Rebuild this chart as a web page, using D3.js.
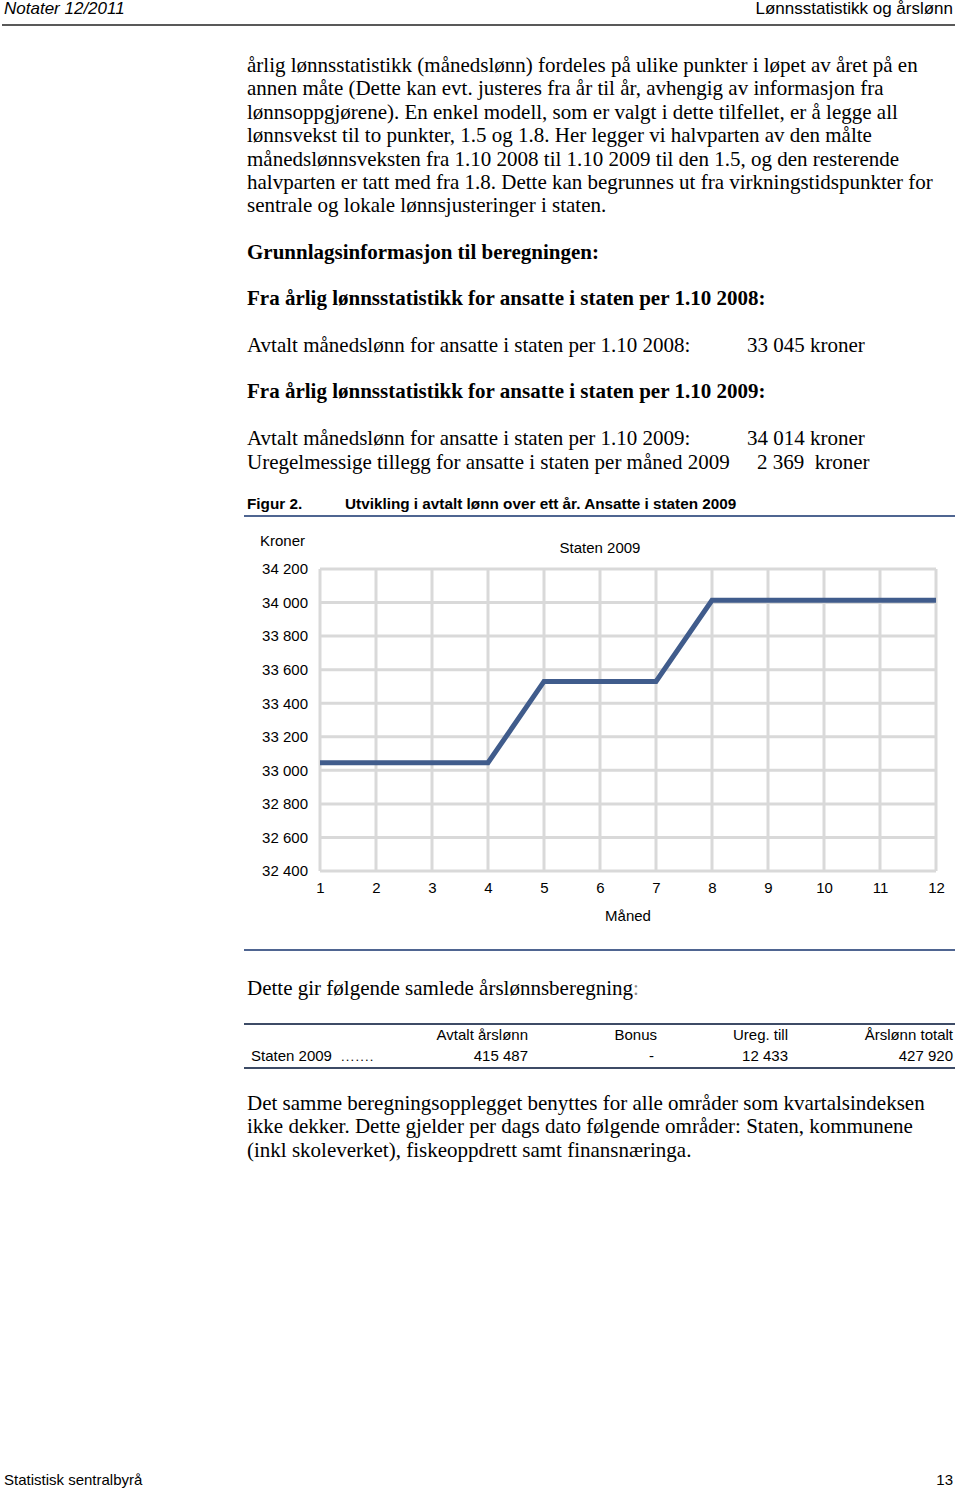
<!DOCTYPE html>
<html>
<head>
<meta charset="utf-8">
<script src="https://cdn.jsdelivr.net/npm/d3@7"></script>
<style>
  body { margin: 0; background: #fff; }
  svg { display: block; }
  .serif { font-family: "Liberation Serif", "Times New Roman", serif; fill: #000; }
  .sans { font-family: "Liberation Sans", Arial, sans-serif; fill: #000; }
</style>
</head>
<body>
<div id="page"></div>
<script>
// chart data
var months = [1, 2, 3, 4, 5, 6, 7, 8, 9, 10, 11, 12];
var salary = [33045, 33045, 33045, 33045, 33530, 33530, 33530, 34014, 34014, 34014, 34014, 34014];
var yTicks = [32400, 32600, 32800, 33000, 33200, 33400, 33600, 33800, 34000, 34200];

// table data
var tableHeads = ["Avtalt årslønn", "Bonus", "Ureg. till", "Årslønn totalt"];
var tableRow = ["415 487", "-", "12 433", "427 920"];

var intro = [
  "årlig lønnsstatistikk (månedslønn) fordeles på ulike punkter i løpet av året på en",
  "annen måte (Dette kan evt. justeres fra år til år, avhengig av informasjon fra",
  "lønnsoppgjørene). En enkel modell, som er valgt i dette tilfellet, er å legge all",
  "lønnsvekst til to punkter, 1.5 og 1.8. Her legger vi halvparten av den målte",
  "månedslønnsveksten fra 1.10 2008 til 1.10 2009 til den 1.5, og den resterende",
  "halvparten er tatt med fra 1.8. Dette kan begrunnes ut fra virkningstidspunkter for",
  "sentrale og lokale lønnsjusteringer i staten."
];
var outro = [
  "Det samme beregningsopplegget benyttes for alle områder som kvartalsindeksen",
  "ikke dekker. Dette gjelder per dags dato følgende områder: Staten, kommunene",
  "(inkl skoleverket), fiskeoppdrett samt finansnæringa."
];

var width = 960, height = 1489;
var bodySize = "21px";
var svg = d3.select("#page").append("svg")
  .attr("width", width)
  .attr("height", height);

// page header / footer
svg.append("text").attr("class", "sans").attr("x", 4).attr("y", 14)
  .style("font-size", "17px").style("font-style", "italic").text("Notater 12/2011");
svg.append("text").attr("class", "sans").attr("x", 953).attr("y", 14)
  .attr("text-anchor", "end").style("font-size", "17px").text("Lønnsstatistikk og årslønn");
svg.append("line").attr("x1", 2).attr("x2", 955).attr("y1", 25).attr("y2", 25)
  .attr("stroke", "#222").attr("stroke-width", 1.5);

svg.append("text").attr("class", "sans").attr("x", 4).attr("y", 1485)
  .style("font-size", "15px").text("Statistisk sentralbyrå");
svg.append("text").attr("class", "sans").attr("x", 953).attr("y", 1485)
  .attr("text-anchor", "end").style("font-size", "15px").text("13");

// body text
function para(lines, y0) {
  svg.append("g").selectAll("text").data(lines).join("text")
    .attr("class", "serif")
    .attr("x", 247)
    .attr("y", function(d, i) { return y0 + i * 23.4; })
    .style("font-size", bodySize)
    .text(function(d) { return d; });
}
para(intro, 72);

function line(txt, x, y, bold) {
  return svg.append("text").attr("class", "serif").attr("x", x).attr("y", y)
    .style("font-size", bodySize).style("font-weight", bold ? "bold" : null).text(txt);
}
line("Grunnlagsinformasjon til beregningen:", 247, 259, true);
line("Fra årlig lønnsstatistikk for ansatte i staten per 1.10 2008:", 247, 305, true);
line("Avtalt månedslønn for ansatte i staten per 1.10 2008:", 247, 352);
line("33 045 kroner", 747, 352);
line("Fra årlig lønnsstatistikk for ansatte i staten per 1.10 2009:", 247, 398, true);
line("Avtalt månedslønn for ansatte i staten per 1.10 2009:", 247, 445);
line("34 014 kroner", 747, 445);
line("Uregelmessige tillegg for ansatte i staten per måned 2009", 247, 469);
line("2 369  kroner", 757, 469).style("white-space", "pre");

// figure title
svg.append("text").attr("class", "sans").attr("x", 247).attr("y", 509)
  .style("font-size", "15.3px").style("font-weight", "bold").text("Figur 2.");
svg.append("text").attr("class", "sans").attr("x", 345).attr("y", 509)
  .style("font-size", "15.3px").style("font-weight", "bold")
  .text("Utvikling i avtalt lønn over ett år. Ansatte i staten 2009");
svg.append("line").attr("x1", 244).attr("x2", 955).attr("y1", 516).attr("y2", 516)
  .attr("stroke", "#4f6591").attr("stroke-width", 2);

// chart
var x = d3.scaleLinear().domain([1, 12]).range([320, 936]);
var y = d3.scaleLinear().domain([32400, 34200]).range([871, 569]);
var fmt = function(v) { return d3.format(",")(v).replace(",", " "); };

var grid = svg.append("g");
grid.selectAll("line.h").data(yTicks).join("line")
  .attr("class", "h")
  .attr("x1", x(1)).attr("x2", x(12))
  .attr("y1", function(d) { return y(d); }).attr("y2", function(d) { return y(d); })
  .attr("stroke", "#d9d9d9").attr("stroke-width", 3);
grid.selectAll("line.v").data(months).join("line")
  .attr("class", "v")
  .attr("x1", function(d) { return x(d); }).attr("x2", function(d) { return x(d); })
  .attr("y1", y(34200)).attr("y2", y(32400))
  .attr("stroke", "#d9d9d9").attr("stroke-width", 3);

var yAxis = svg.append("g")
  .attr("transform", "translate(" + (x(1) - 12) + ",0)")
  .call(d3.axisLeft(y).tickValues(yTicks).tickFormat(fmt).tickSize(0).tickPadding(0));
yAxis.select(".domain").remove();
yAxis.selectAll("text")
  .style("font-size", "15px").style("font-family", "'Liberation Sans', Arial, sans-serif")
  .attr("fill", "#000");

var xAxis = svg.append("g")
  .attr("transform", "translate(0," + (y(32400) + 11) + ")")
  .call(d3.axisBottom(x).tickValues(months).tickFormat(d3.format("d")).tickSize(0).tickPadding(0));
xAxis.select(".domain").remove();
xAxis.selectAll("text")
  .style("font-size", "15px").style("font-family", "'Liberation Sans', Arial, sans-serif")
  .attr("fill", "#000");

svg.append("path")
  .datum(months.map(function(m, i) { return [m, salary[i]]; }))
  .attr("fill", "none")
  .attr("stroke", "#405c8c")
  .attr("stroke-width", 5)
  .attr("stroke-linejoin", "miter")
  .attr("d", d3.line().x(function(d) { return x(d[0]); }).y(function(d) { return y(d[1]); }));

svg.append("text").attr("class", "sans").attr("x", 260).attr("y", 546)
  .style("font-size", "15px").text("Kroner");
svg.append("text").attr("class", "sans").attr("x", 600).attr("y", 553)
  .attr("text-anchor", "middle").style("font-size", "15px").text("Staten 2009");
svg.append("text").attr("class", "sans").attr("x", 628).attr("y", 921)
  .attr("text-anchor", "middle").style("font-size", "15px").text("Måned");

svg.append("line").attr("x1", 244).attr("x2", 955).attr("y1", 950).attr("y2", 950)
  .attr("stroke", "#4f6591").attr("stroke-width", 2);

// calculation table
var t = line("Dette gir følgende samlede årslønnsberegning", 247, 995);
t.append("tspan").style("fill", "#888").text(":");

var colRight = [528, 657, 788, 953];
svg.append("line").attr("x1", 244).attr("x2", 955).attr("y1", 1024).attr("y2", 1024)
  .attr("stroke", "#3d4b66").attr("stroke-width", 2);
svg.append("g").selectAll("text").data(tableHeads).join("text")
  .attr("class", "sans").attr("text-anchor", "end")
  .attr("x", function(d, i) { return colRight[i]; }).attr("y", 1040)
  .style("font-size", "15px").text(function(d) { return d; });
svg.append("text").attr("class", "sans").attr("x", 251).attr("y", 1061)
  .style("font-size", "15px").text("Staten 2009");
svg.append("text").attr("class", "sans").attr("x", 341).attr("y", 1061)
  .style("font-size", "13px").style("letter-spacing", "1.2px").text(".......");
svg.append("g").selectAll("text").data(tableRow).join("text")
  .attr("class", "sans").attr("text-anchor", "end")
  .attr("x", function(d, i) { return colRight[i] - (d === "-" ? 3 : 0); }).attr("y", 1061)
  .style("font-size", "15px").text(function(d) { return d; });
svg.append("line").attr("x1", 244).attr("x2", 955).attr("y1", 1068).attr("y2", 1068)
  .attr("stroke", "#3d4b66").attr("stroke-width", 2);

para(outro, 1110);
</script>
</body>
</html>
